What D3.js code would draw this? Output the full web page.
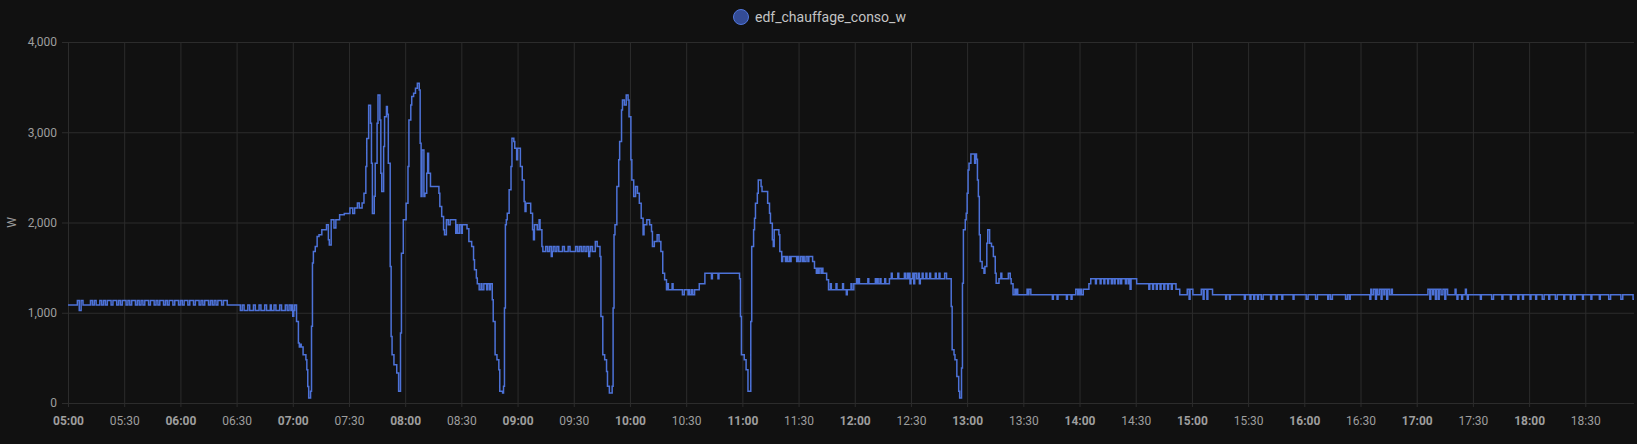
<!DOCTYPE html>
<html>
<head>
<meta charset="utf-8">
<script src="https://cdn.jsdelivr.net/npm/d3@7"></script>
<style>
    body { margin: 0; background: #111111; }
    svg text { font-family: Roboto, "Noto Sans", sans-serif; }
</style>
</head>
<body>
<div id="chart"></div>
<script>
// readings (change points of the sensor)
const times = [
    "05:00","05:05","05:06","05:07","05:08","05:12","05:13","05:14","05:15","05:17",
    "05:18","05:19","05:20","05:21","05:23","05:24","05:26","05:27","05:28","05:29",
    "05:31","05:32","05:33","05:34","05:36","05:37","05:38","05:39","05:40","05:41",
    "05:43","05:44","05:46","05:47","05:48","05:49","05:51","05:52","05:53","05:54",
    "05:56","05:57","05:59","06:00","06:01","06:02","06:04","06:05","06:07","06:08",
    "06:10","06:11","06:12","06:13","06:15","06:16","06:17","06:18","06:19","06:20",
    "06:22","06:23","06:25","06:32","06:33","06:34","06:36","06:37","06:39","06:40",
    "06:42","06:43","06:45","06:46","06:48","06:48:30","06:50","06:51","06:53","06:54",
    "06:56","06:57","06:58","06:59","06:59:30","07:00","07:00:30","07:01","07:02","07:03",
    "07:03:30","07:04","07:04:30","07:05:30","07:07","07:07:30","07:08","07:08:30","07:09:30","07:10",
    "07:10:30","07:11","07:12","07:13","07:14","07:15:30","07:18","07:19","07:19:30","07:20:30",
    "07:22","07:23","07:25","07:27:30","07:30:30","07:32","07:33","07:34:30","07:35:30","07:37",
    "07:38","07:39","07:39:30","07:40:30","07:41:30","07:42","07:42:30","07:43:30","07:44","07:45",
    "07:45:30","07:46:30","07:47","07:47:30","07:48:30","07:49","07:50","07:50:30","07:51","07:52",
    "07:52:30","07:53","07:54","07:55:30","07:56:30","07:57:30","07:58","07:59","08:00:30","08:01:30",
    "08:02","08:03","08:03:30","08:04:30","08:05:30","08:06:30","08:07:30","08:08","08:08:30","08:09",
    "08:10","08:10:30","08:11:30","08:12","08:12:30","08:13:30","08:18","08:18:30","08:19:30","08:20:30",
    "08:21","08:22","08:23","08:24","08:27","08:27:30","08:28","08:29","08:30","08:30:30",
    "08:33","08:34","08:35:30","08:36:30","08:37","08:38","08:38:30","08:39:30","08:40:30","08:41",
    "08:42","08:43:30","08:44","08:45","08:45:30","08:46:30","08:47","08:48","08:49","08:50",
    "08:50:30","08:52","08:52:30","08:53","08:53:30","08:54","08:54:30","08:55:30","08:56:30","08:57",
    "08:58","08:58:30","08:59:30","09:00","09:01:30","09:02:30","09:03:30","09:04","09:04:30","09:07",
    "09:08","09:08:30","09:09","09:10:30","09:11:30","09:12","09:13","09:13:30","09:15","09:16",
    "09:17","09:18","09:18:30","09:19","09:20","09:21","09:22","09:24","09:25","09:27",
    "09:28","09:31","09:32","09:33","09:34","09:35","09:36","09:37","09:38","09:38:30",
    "09:39","09:40","09:41:30","09:42:30","09:44","09:44:30","09:45:30","09:46:30","09:47:30","09:48",
    "09:49","09:50:30","09:51","09:51:30","09:52","09:53","09:54","09:54:30","09:55:30","09:56",
    "09:57","09:58","09:59","09:59:30","10:00:30","10:01","10:02","10:03","10:04","10:05",
    "10:06","10:07","10:07:30","10:09","10:10:30","10:11:30","10:12","10:13","10:14:30","10:15:30",
    "10:16:30","10:17:30","10:18:30","10:19:30","10:20","10:20:30","10:22:30","10:23","10:28","10:29",
    "10:31","10:31:30","10:32","10:33","10:33:30","10:34:30","10:37","10:40","10:43:30","10:44",
    "10:47","10:47:30","10:58:30","10:59","10:59:30","11:01","11:02","11:03","11:04:30","11:05",
    "11:06","11:06:30","11:07","11:08","11:08:30","11:10","11:10:30","11:13:30","11:14:30","11:15",
    "11:16","11:16:30","11:17","11:19:30","11:20","11:21","11:21:30","11:23","11:23:30","11:24",
    "11:25","11:25:30","11:26","11:29","11:29:30","11:30","11:31","11:32","11:32:30","11:33",
    "11:34","11:35","11:35:30","11:37:30","11:38:30","11:39:30","11:40","11:40:30","11:41","11:42",
    "11:42:30","11:43","11:45","11:46","11:47","11:47:30","11:50","11:50:30","11:53:30","11:54",
    "11:55:30","11:56","11:58","11:58:30","11:59:30","12:01","12:01:30","12:02","12:02:30","12:07",
    "12:07:30","12:11","12:11:30","12:12","12:12:30","12:13:30","12:14","12:16","12:16:30","12:18:30",
    "12:19:30","12:20","12:23","12:23:30","12:26:30","12:27","12:28","12:28:30","12:29","12:29:30",
    "12:30","12:31","12:31:30","12:32","12:33","12:34","12:34:30","12:35","12:36","12:36:30",
    "12:38","12:38:30","12:40","12:40:30","12:43","12:43:30","12:45","12:45:30","12:48","12:49",
    "12:51:30","12:52","12:53","12:53:30","12:54:30","12:55:30","12:56","12:57","12:57:30","12:58",
    "12:59","12:59:30","13:00","13:00:30","13:01","13:02","13:04","13:04:30","13:05","13:05:30",
    "13:06","13:06:30","13:07","13:08","13:09","13:09:30","13:10:30","13:11","13:12","13:13",
    "13:14","13:15","13:15:30","13:17","13:18","13:18:30","13:22","13:23","13:23:30","13:24:30",
    "13:25:30","13:26","13:26:30","13:27","13:32","13:32:30","13:33","13:34","13:45:30","13:46",
    "13:48","13:48:30","13:53","13:53:30","13:55:30","13:56","13:58","13:59","13:59:30","14:00",
    "14:00:30","14:01","14:02","14:05","14:06","14:08:30","14:09","14:11","14:11:30","14:13",
    "14:13:30","14:15","14:15:30","14:17","14:17:30","14:18:30","14:19","14:20:30","14:21","14:22",
    "14:22:30","14:24:30","14:25","14:26","14:26:30","14:27","14:27:30","14:30:30","14:37","14:37:30",
    "14:39","14:39:30","14:41","14:41:30","14:43","14:43:30","14:45","14:45:30","14:47","14:47:30",
    "14:49","14:49:30","14:51:30","14:53:30","14:57:30","14:58:30","14:59","15:00:30","15:05","15:06",
    "15:06:30","15:08","15:08:30","15:11","15:18","15:18:30","15:20","15:20:30","15:28","15:28:30",
    "15:31","15:31:30","15:33","15:33:30","15:35","15:35:30","15:37","15:38","15:42","15:42:30",
    "15:45","15:45:30","15:48","15:48:30","15:54","15:54:30","16:01","16:02","16:06","16:07",
    "16:12:30","16:13","16:14","16:15","16:22","16:23","16:24","16:24:30","16:35","16:35:30",
    "16:36","16:37","16:38","16:38:30","16:39","16:40","16:41","16:41:30","16:42:30","16:43",
    "16:44","16:44:30","16:45:30","16:46:30","16:47","17:06","17:07","17:07:30","17:08:30","17:09",
    "17:10","17:10:30","17:11:30","17:12","17:13","17:14","17:15","17:15:30","17:16:30","17:20:30",
    "17:21","17:21:30","17:22","17:24","17:24:30","17:26","17:26:30","17:27","17:27:30","17:34",
    "17:34:30","17:40","17:41","17:45:30","17:46","17:50","17:50:30","17:54","17:54:30","17:56:30",
    "17:57","18:00:30","18:01","18:03:30","18:04","18:07","18:08","18:10:30","18:11","18:14",
    "18:15","18:18:30","18:19","18:22","18:22:30","18:24","18:24:30","18:28:30","18:29","18:33",
    "18:33:30","18:37:30","18:38","18:42:30","18:43:30","18:49","18:50","18:55:30"
];
const watts = [
    1085,1135,1025,1135,1085,1135,1085,1135,1085,1135,
    1085,1135,1085,1135,1085,1135,1085,1135,1085,1135,
    1085,1135,1085,1135,1085,1135,1085,1135,1085,1135,
    1085,1135,1085,1135,1085,1135,1085,1135,1085,1135,
    1085,1135,1085,1135,1085,1135,1085,1135,1085,1135,
    1085,1135,1085,1135,1085,1135,1085,1135,1085,1135,
    1085,1135,1085,1025,1085,1025,1085,1025,1085,1025,
    1085,1025,1085,1025,1085,1025,1085,1025,1085,1025,
    1085,1025,1085,1025,1085,960,1025,1085,904,664,
    620,650,620,535,480,369,184,55,130,850,
    1550,1680,1735,1845,1865,1920,1975,1810,1750,2030,
    1940,2030,2085,2100,2160,2100,2160,2215,2160,2215,
    2325,2620,2930,3300,3100,2657,2100,2290,2657,3100,
    3413,3136,2546,2343,2841,3173,3284,3200,2657,1513,
    738,535,424,332,129,775,1660,2030,2214,2620,
    3136,3303,3395,3432,3487,3542,3469,2878,2288,2804,
    2288,2325,2546,2767,2546,2398,2325,2177,2066,1919,
    1863,2030,1974,2030,1882,1974,1882,1974,1882,1974,
    1930,1790,1734,1587,1476,1384,1321,1255,1321,1255,
    1321,1255,1321,1255,1321,1144,904,535,480,369,
    129,111,185,1052,1974,2030,2103,2362,2620,2934,
    2897,2823,2694,2823,2620,2472,2232,2122,2214,2103,
    1919,1808,1974,1919,2030,1919,1734,1679,1734,1679,
    1734,1624,1679,1734,1679,1734,1679,1734,1679,1734,
    1679,1734,1679,1734,1679,1734,1679,1734,1624,1679,
    1734,1679,1790,1734,1624,959,535,480,350,185,
    111,185,1052,1863,1974,2398,2694,2897,3247,3358,
    3303,3413,3358,3173,2694,2472,2288,2398,2325,2214,
    2048,1863,1974,2030,1974,1900,1734,1790,1863,1790,
    1679,1439,1365,1255,1321,1255,1321,1255,1200,1255,
    1200,1255,1200,1255,1200,1255,1321,1439,1376,1439,
    1376,1439,1376,959,535,480,369,129,904,1734,
    1919,2048,2214,2325,2472,2398,2343,2214,2103,1993,
    1808,1734,1919,1863,1679,1568,1624,1568,1624,1568,
    1624,1568,1624,1568,1624,1568,1624,1568,1624,1568,
    1624,1568,1624,1568,1494,1439,1494,1439,1494,1439,
    1494,1439,1365,1255,1321,1255,1321,1255,1321,1255,
    1200,1255,1321,1255,1321,1376,1321,1376,1321,1376,
    1321,1376,1321,1376,1321,1376,1321,1376,1321,1376,
    1439,1376,1439,1376,1439,1376,1439,1376,1439,1321,
    1376,1439,1321,1439,1376,1439,1321,1376,1439,1376,
    1439,1376,1439,1376,1439,1376,1439,1376,1439,1376,
    1070,590,535,480,295,129,55,387,1328,1919,
    2030,2103,2325,2583,2657,2760,2657,2760,2700,2472,
    2288,1863,1568,1494,1439,1513,1771,1919,1771,1734,
    1624,1439,1328,1376,1439,1376,1439,1376,1321,1200,
    1260,1200,1260,1200,1260,1200,1260,1200,1150,1200,
    1150,1200,1150,1200,1150,1200,1260,1200,1260,1200,
    1260,1200,1260,1321,1376,1321,1376,1321,1376,1321,
    1376,1321,1376,1321,1376,1321,1376,1321,1376,1321,
    1376,1321,1376,1321,1376,1260,1376,1321,1260,1321,
    1260,1321,1260,1321,1260,1321,1260,1321,1260,1321,
    1260,1321,1260,1200,1260,1150,1260,1200,1260,1150,
    1260,1150,1260,1200,1150,1200,1150,1200,1150,1200,
    1150,1200,1150,1200,1150,1200,1150,1200,1150,1200,
    1150,1200,1150,1200,1150,1200,1150,1200,1150,1200,
    1150,1200,1150,1200,1150,1200,1150,1200,1150,1260,
    1200,1260,1150,1260,1200,1260,1150,1260,1200,1260,
    1150,1260,1200,1260,1200,1260,1150,1260,1200,1260,
    1150,1260,1150,1260,1200,1260,1150,1260,1200,1260,
    1200,1150,1200,1150,1200,1260,1200,1150,1200,1150,
    1200,1150,1200,1150,1200,1150,1200,1150,1200,1150,
    1200,1150,1200,1150,1200,1150,1200,1150,1200,1150,
    1200,1150,1200,1150,1200,1150,1200,1150,1200,1150,
    1200,1150,1200,1150,1200,1150,1200,1150
];
const yTicks = [0, 1000, 2000, 3000, 4000];
const startTime = "05:00";
const endTime = "18:56";
const seriesName = "edf_chauffage_conso_w";
const unit = "W";

if (times.length !== watts.length) console.warn("length mismatch", times.length, watts.length);

const width = 1637, height = 444;
const margin = {top: 42, right: 3, bottom: 41, left: 68};
const w = width - margin.left - margin.right;
const h = height - margin.top - margin.bottom;

const gridColor = "#2c2c2c";
const tickColor = "#9e9e9e";
const lineColor = "#4d72d8";

const parseTime = s => d3.timeParse(s.length > 5 ? "%H:%M:%S" : "%H:%M")(s);
const data = times.map((t, i) => [parseTime(t), watts[i]]);
// hold the last value up to the end of the window
data.push([parseTime(endTime), watts[watts.length - 1]]);

const svg = d3.select("#chart")
    .append("svg")
        .attr("width", width)
        .attr("height", height);

const g = svg.append("g")
    .attr("transform", "translate(" + margin.left + "," + margin.top + ")");

const x = d3.scaleTime()
    .domain([parseTime(startTime), parseTime(endTime)])
    .range([0, w]);
const y = d3.scaleLinear()
    .domain([0, 4000])
    .range([h, 0]);

// y grid + labels
const yAxis = g.append("g")
    .attr("transform", "translate(-6,0)")
    .call(d3.axisLeft(y)
        .tickValues(yTicks)
        .tickSize(-(w + 6))
        .tickPadding(5)
        .tickFormat(d3.format(",")));
yAxis.select(".domain").remove();
yAxis.selectAll("line").attr("stroke", gridColor);
yAxis.selectAll("text")
    .attr("fill", tickColor)
    .attr("font-size", 12)
    .attr("font-family", "Roboto");

// x grid + labels, full hours in bold
const xAxis = g.append("g")
    .attr("transform", "translate(0," + (h + 4) + ")")
    .call(d3.axisBottom(x)
        .ticks(d3.timeMinute.every(30))
        .tickSize(-(h + 4))
        .tickPadding(9)
        .tickFormat(d3.timeFormat("%H:%M")));
xAxis.select(".domain").remove();
xAxis.selectAll("line").attr("stroke", gridColor);
xAxis.selectAll("text")
    .attr("fill", tickColor)
    .attr("font-size", 12)
    .attr("font-family", "Roboto")
    .attr("font-weight", d => d.getMinutes() === 0 ? "bold" : "normal");

// unit label
svg.append("text")
    .attr("transform", "translate(13," + (margin.top + h / 2) + ") rotate(-90)")
    .attr("text-anchor", "middle")
    .attr("dominant-baseline", "middle")
    .attr("fill", tickColor)
    .attr("font-size", 12)
    .text(unit);

// the series
const line = d3.line()
    .x(d => x(d[0]))
    .y(d => y(d[1]))
    .curve(d3.curveStepAfter);
g.append("path")
    .datum(data)
    .attr("fill", "none")
    .attr("stroke", lineColor)
    .attr("stroke-width", 1.5)
    .attr("d", line);

// legend
const legend = svg.append("g")
    .attr("transform", "translate(741,17)");
legend.append("circle")
    .attr("r", 7.5)
    .attr("fill", "#344c96")
    .attr("stroke", "#5177dc")
    .attr("stroke-width", 1);
legend.append("text")
    .attr("x", 14)
    .attr("dominant-baseline", "central")
    .attr("fill", "#c4c4c4")
    .attr("font-size", 14)
    .text(seriesName);
</script>
</body>
</html>
